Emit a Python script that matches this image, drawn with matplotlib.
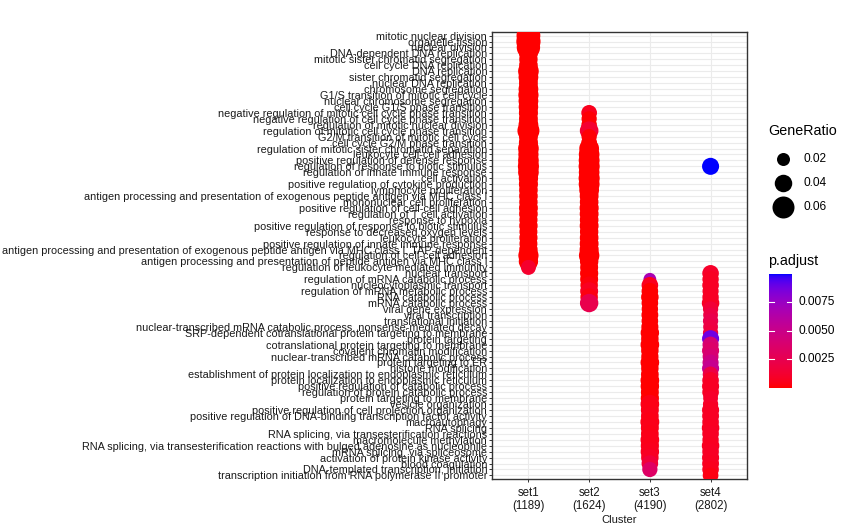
import matplotlib.pyplot as plt
import numpy as np
from matplotlib.colors import ListedColormap, Normalize

plt.rcParams['font.family'] = ['Liberation Sans', 'DejaVu Sans']

# GO terms, top to bottom as shown
terms = [
    "mitotic nuclear division",
    "organelle fission",
    "nuclear division",
    "DNA-dependent DNA replication",
    "mitotic sister chromatid segregation",
    "cell cycle DNA replication",
    "DNA replication",
    "sister chromatid segregation",
    "nuclear DNA replication",
    "chromosome segregation",
    "G1/S transition of mitotic cell cycle",
    "nuclear chromosome segregation",
    "cell cycle G1/S phase transition",
    "negative regulation of mitotic cell cycle phase transition",
    "negative regulation of cell cycle phase transition",
    "regulation of mitotic nuclear division",
    "regulation of mitotic cell cycle phase transition",
    "G2/M transition of mitotic cell cycle",
    "cell cycle G2/M phase transition",
    "regulation of mitotic sister chromatid separation",
    "leukocyte cell-cell adhesion",
    "positive regulation of defense response",
    "regulation of response to biotic stimulus",
    "regulation of innate immune response",
    "cell activation",
    "positive regulation of cytokine production",
    "lymphocyte proliferation",
    "antigen processing and presentation of exogenous peptide antigen via MHC class I",
    "mononuclear cell proliferation",
    "positive regulation of cell-cell adhesion",
    "regulation of T cell activation",
    "response to hypoxia",
    "positive regulation of response to biotic stimulus",
    "response to decreased oxygen levels",
    "leukocyte proliferation",
    "positive regulation of innate immune response",
    "antigen processing and presentation of exogenous peptide antigen via MHC class I, TAP-dependent",
    "regulation of cell-cell adhesion",
    "antigen processing and presentation of peptide antigen via MHC class I",
    "regulation of leukocyte mediated immunity",
    "nuclear transport",
    "regulation of mRNA catabolic process",
    "nucleocytoplasmic transport",
    "regulation of mRNA metabolic process",
    "RNA catabolic process",
    "mRNA catabolic process",
    "viral gene expression",
    "viral transcription",
    "translational initiation",
    "nuclear-transcribed mRNA catabolic process, nonsense-mediated decay",
    "SRP-dependent cotranslational protein targeting to membrane",
    "protein targeting",
    "cotranslational protein targeting to membrane",
    "covalent chromatin modification",
    "nuclear-transcribed mRNA catabolic process",
    "protein targeting to ER",
    "histone modification",
    "establishment of protein localization to endoplasmic reticulum",
    "protein localization to endoplasmic reticulum",
    "positive regulation of catabolic process",
    "regulation of protein catabolic process",
    "protein targeting to membrane",
    "vesicle organization",
    "positive regulation of cell projection organization",
    "positive regulation of DNA-binding transcription factor activity",
    "macroautophagy",
    "RNA splicing",
    "RNA splicing, via transesterification reactions",
    "macromolecule methylation",
    "RNA splicing, via transesterification reactions with bulged adenosine as nucleophile",
    "mRNA splicing, via spliceosome",
    "activation of protein kinase activity",
    "blood coagulation",
    "DNA-templated transcription, initiation",
    "transcription initiation from RNA polymerase II promoter",
]

clusters = ['set1\n(1189)', 'set2\n(1624)', 'set3\n(4190)', 'set4\n(2802)']

# set1
set1_terms = terms[0:40]
set1_ratio = [0.068, 0.070, 0.066, 0.046, 0.044, 0.045, 0.054, 0.050, 0.046, 0.050,
              0.052, 0.050, 0.049, 0.047, 0.046, 0.050, 0.060, 0.046, 0.047, 0.054,
              0.052, 0.054, 0.056, 0.054, 0.048, 0.047, 0.045, 0.045, 0.044, 0.046,
              0.045, 0.043, 0.044, 0.042, 0.043, 0.042, 0.044, 0.052, 0.048, 0.029]
set1_padj = [1e-9] * 39 + [0.0011]

# set2
set2_terms = terms[13:46]
set2_ratio = [0.032, 0.030, 0.031, 0.045, 0.030, 0.032, 0.050, 0.054, 0.055, 0.056,
              0.054, 0.056, 0.055, 0.050, 0.046, 0.045, 0.047, 0.046, 0.045, 0.046,
              0.044, 0.045, 0.046, 0.047, 0.053, 0.044, 0.042, 0.043, 0.042, 0.040,
              0.042, 0.040, 0.044]
set2_padj = [0.0006, 0.0001, 0.0001, 0.0013, 0.0001, 0.0001, 1e-6, 1e-6, 1e-6, 1e-6,
             1e-6, 1e-6, 1e-6, 1e-6, 1e-6, 1e-6, 1e-6, 1e-6, 1e-6, 1e-6,
             1e-6, 1e-6, 1e-6, 1e-6, 1e-6, 1e-6, 1e-6, 1e-6, 1e-6, 0.0002,
             0.0007, 0.0003, 0.0024]

# set3
set3_terms = terms[41:74]
set3_ratio = [0.019, 0.036, 0.036, 0.040, 0.036, 0.035, 0.037, 0.036, 0.038, 0.044,
              0.040, 0.045, 0.040, 0.039, 0.045, 0.040, 0.041, 0.045, 0.044, 0.042,
              0.043, 0.045, 0.042, 0.041, 0.046, 0.042, 0.041, 0.045, 0.043, 0.044,
              0.040, 0.036, 0.030]
set3_padj = [0.0068, 0.0006, 1e-5, 1e-5, 1e-5, 1e-5, 1e-5, 1e-5, 1e-5, 1e-5,
             1e-5, 1e-5, 1e-5, 1e-5, 1e-5, 1e-5, 1e-5, 1e-5, 1e-5, 1e-5,
             1e-5, 0.0004, 0.0004, 0.0005, 0.0004, 0.0005, 0.0004, 0.0005, 0.0005, 0.0006,
             0.0008, 0.0016, 0.0034]

# set4
set4_terms = terms[22:23] + terms[40:75]
set4_ratio = [0.038,
              0.036, 0.035, 0.036, 0.034, 0.035, 0.040, 0.030, 0.028, 0.030, 0.028,
              0.030, 0.038, 0.034, 0.038, 0.033, 0.034, 0.038, 0.032, 0.036, 0.038,
              0.036, 0.028, 0.030, 0.038, 0.037, 0.036, 0.040, 0.036, 0.035, 0.040,
              0.036, 0.038, 0.037, 0.036, 0.032]
set4_padj = [0.00995,
             0.0010, 0.0008, 0.0008, 0.0008, 0.0008, 0.0008, 0.0015, 0.0020, 0.0024, 0.0020,
             0.0018, 0.0088, 0.0040, 0.0036, 0.0040, 0.0048, 0.0053, 0.0020, 0.0010, 0.0008,
             0.0008, 0.0010, 0.0010, 0.0008, 0.0008, 0.0008, 0.0007, 0.0008, 0.0008, 0.0007,
             0.0008, 0.0008, 0.0007, 0.0006, 0.0003]

size_breaks = [0.02, 0.04, 0.06]
padj_breaks = [0.0025, 0.0050, 0.0075]


def srgb_to_lab(rgb):
    c = np.asarray(rgb, float)
    lin = np.where(c <= 0.04045, c / 12.92, ((c + 0.055) / 1.055) ** 2.4)
    m = np.array([[0.4124, 0.3576, 0.1805],
                  [0.2126, 0.7152, 0.0722],
                  [0.0193, 0.1192, 0.9505]])
    xyz = m @ lin / np.array([0.95047, 1.0, 1.08883])
    f = np.where(xyz > 0.008856, np.cbrt(xyz), 7.787 * xyz + 16 / 116)
    return np.array([116 * f[1] - 16, 500 * (f[0] - f[1]), 200 * (f[1] - f[2])])


def lab_to_srgb(lab):
    L, a, b = lab
    fy = (L + 16) / 116
    f = np.array([fy + a / 500, fy, fy - b / 200])
    xyz = np.where(f ** 3 > 0.008856, f ** 3, (f - 16 / 116) / 7.787)
    xyz = xyz * np.array([0.95047, 1.0, 1.08883])
    m = np.array([[3.2406, -1.5372, -0.4986],
                  [-0.9689, 1.8758, 0.0415],
                  [0.0557, -0.2040, 1.0570]])
    lin = np.clip(m @ xyz, 0, 1)
    c = np.where(lin <= 0.0031308, 12.92 * lin, 1.055 * lin ** (1 / 2.4) - 0.055)
    return np.clip(c, 0, 1)


# red -> blue gradient interpolated in Lab space, like ggplot
lab_lo = srgb_to_lab([1, 0, 0])
lab_hi = srgb_to_lab([0, 0, 1])
cmap = ListedColormap([lab_to_srgb(lab_lo + t * (lab_hi - lab_lo))
                       for t in np.linspace(0, 1, 256)])

all_padj = set1_padj + set2_padj + set3_padj + set4_padj
norm = Normalize(vmin=min(all_padj), vmax=max(all_padj))


def dot_size(ratio):
    """ marker area (pt^2) from gene ratio """
    d_px = 8.5 + 225 * np.asarray(ratio)
    return (d_px * 72 / 100) ** 2


fig = plt.figure(figsize=(8.53, 5.32), dpi=100)
fig.patch.set_facecolor('white')
ax = fig.add_axes([492 / 853, 1 - 479 / 532, 255 / 853, 447 / 532])

row_of = {t: i for i, t in enumerate(terms)}
sets = [(set1_terms, set1_ratio, set1_padj),
        (set2_terms, set2_ratio, set2_padj),
        (set3_terms, set3_ratio, set3_padj),
        (set4_terms, set4_ratio, set4_padj)]
for xi, (st, sr, sp) in enumerate(sets):
    ys = [row_of[t] for t in st]
    ax.scatter([xi] * len(ys), ys, s=dot_size(sr), c=sp, cmap=cmap, norm=norm,
               linewidths=0, zorder=3)

n = len(terms)
ax.set_xlim(-0.6, len(clusters) - 0.4)
ax.set_ylim(n - 0.4, -0.6)
ax.set_xticks(range(len(clusters)))
ax.set_xticklabels(clusters, fontsize=8.3, color='#1a1a1a', linespacing=1.15)
ax.set_yticks(range(n))
ax.set_yticklabels(terms, fontsize=7.8, color='#1a1a1a')
ax.tick_params(axis='y', length=2.5, pad=1, width=0.7, color='#333333')
ax.tick_params(axis='x', length=2.5, pad=3, width=0.7, color='#333333')
ax.grid(True, color='#EBEBEB', linewidth=0.8, zorder=0)
ax.set_axisbelow(True)
for sp in ax.spines.values():
    sp.set_color('#333333')
    sp.set_linewidth(1.0)
ax.set_xlabel('Cluster', fontsize=8, color='#1a1a1a', labelpad=2.5)

# GeneRatio legend
lax = fig.add_axes([0, 0, 1, 1], zorder=-1)
lax.set_xlim(0, 853)
lax.set_ylim(532, 0)
lax.axis('off')
lax.text(768, 131, 'GeneRatio', fontsize=10.3, va='center', ha='left')
for yy, br in zip([159, 183, 207], size_breaks):
    lax.scatter([783], [yy], s=dot_size(br), color='black', linewidths=0)
    lax.text(804, yy, f'{br:.2f}', fontsize=8.6, va='center', ha='left')

# p.adjust colorbar
lax.text(768, 261, 'p.adjust', fontsize=10.3, va='center', ha='left')
cax = fig.add_axes([769 / 853, 1 - 388 / 532, 23 / 853, 114 / 532])
grad = np.linspace(0, 1, 256)[:, None]
cax.imshow(grad, aspect='auto', cmap=cmap, origin='lower',
           extent=[0, 1, norm.vmin, norm.vmax])
cax.set_xlim(0, 1)
cax.set_ylim(norm.vmin, norm.vmax)
cax.axis('off')
for v in padj_breaks:
    cax.plot([0, 0.2], [v, v], color='white', linewidth=0.8)
    cax.plot([0.8, 1], [v, v], color='white', linewidth=0.8)
    cax.text(1.3, v, f'{v:.4f}', fontsize=8.6, va='center', ha='left',
             transform=cax.get_yaxis_transform())

fig.savefig('out.png', dpi=100)
